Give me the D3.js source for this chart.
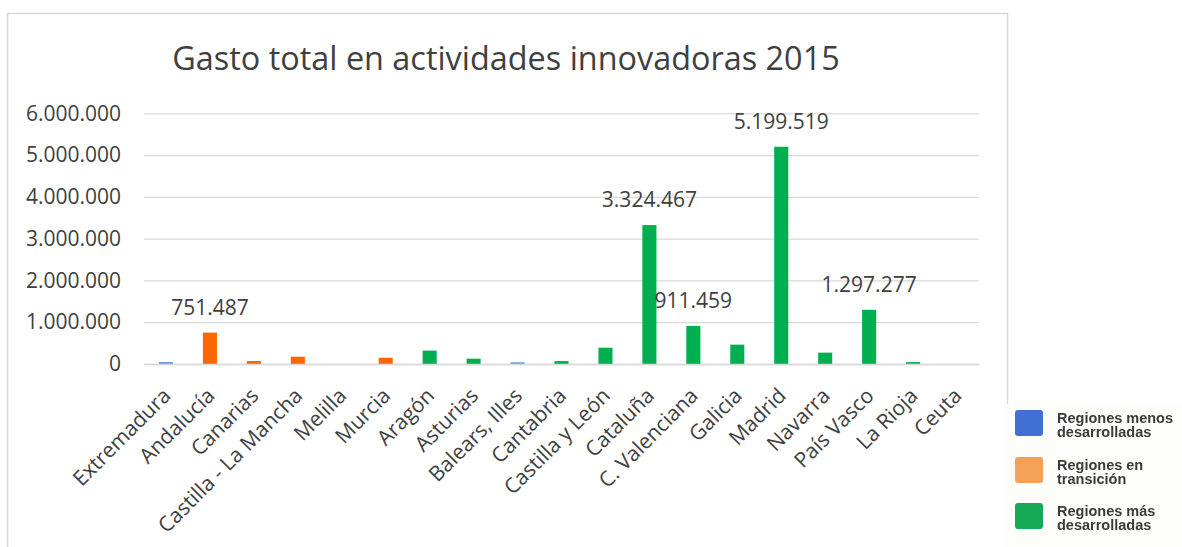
<!DOCTYPE html>
<html>
<head>
<meta charset="utf-8">
<script src="https://cdn.jsdelivr.net/npm/d3@7"></script>
<style>
  body { margin: 0; background: #fff; }
  svg { display: block; font-family: "Open Sans", sans-serif; }
</style>
</head>
<body>
<script>
// data
var categories = ["Extremadura", "Andalucía", "Canarias", "Castilla - La Mancha", "Melilla", "Murcia",
  "Aragón", "Asturias", "Balears, Illes", "Cantabria", "Castilla y León", "Cataluña", "C. Valenciana",
  "Galicia", "Madrid", "Navarra", "País Vasco", "La Rioja", "Ceuta"];
var values = [45000, 751487, 72000, 175000, 0, 150000, 320000, 127000, 40000, 70000, 390000,
  3324467, 911459, 463000, 5199519, 272000, 1297277, 45000, 0];
var groups = ["menos", "transicion", "transicion", "transicion", "transicion", "transicion", "mas", "mas",
  "menos", "mas", "mas", "mas", "mas", "mas", "mas", "mas", "mas", "mas", "mas"];
var labelled = ["Andalucía", "Cataluña", "C. Valenciana", "Madrid", "País Vasco"];
var yTicks = [0, 1000000, 2000000, 3000000, 4000000, 5000000, 6000000];

var legendNames = ["menos", "transicion", "mas"];
var legendLines = [["Regiones menos", "desarrolladas"], ["Regiones en", "transición"], ["Regiones más", "desarrolladas"]];

var barColor = {menos: "#5b9bd5", transicion: "#ff6600", mas: "#00b050"};
var legendColor = {menos: "#3f6fd2", transicion: "#f2a158", mas: "#13a956"};

var width = 1182, height = 547;
var plot = {left: 144, right: 979, top: 113.3, bottom: 364};

var locale = d3.formatLocale({decimal: ",", thousands: ".", grouping: [3], currency: ["", "€"]});
var fmt = locale.format(",d");

var svg = d3.select("body").append("svg")
    .attr("width", width)
    .attr("height", height);

// chart frame
svg.append("rect")
    .attr("x", 7.5).attr("y", 13.5)
    .attr("width", 1000).attr("height", 560)
    .attr("fill", "#fff")
    .attr("stroke", "#d9d9d9")
    .attr("stroke-width", 1.5);

svg.append("text")
    .attr("x", 506).attr("y", 70)
    .attr("text-anchor", "middle")
    .attr("font-size", 32.4)
    .attr("fill", "#404040")
    .text("Gasto total en actividades innovadoras 2015");

var x = d3.scaleBand()
    .domain(categories)
    .range([plot.left, plot.right])
    .paddingInner(0.68)
    .paddingOuter(0.34);

var y = d3.scaleLinear()
    .domain([0, 6000000])
    .range([plot.bottom, plot.top]);

// y axis + gridlines
var yAxis = svg.append("g")
    .attr("transform", "translate(" + plot.left + ",0)")
    .call(d3.axisLeft(y).tickValues(yTicks).tickFormat(fmt)
      .tickSize(-(plot.right - plot.left)).tickPadding(23));
yAxis.select(".domain").remove();
yAxis.selectAll("line").attr("stroke", "#d9d9d9").attr("stroke-width", 1.3);
yAxis.selectAll("text").attr("font-size", 21).attr("fill", "#404040")
    .attr("font-family", "Open Sans");

// bars
svg.selectAll(".bar")
    .data(categories)
  .enter().append("rect")
    .attr("class", "bar")
    .attr("x", function(d) { return x(d); })
    .attr("width", x.bandwidth())
    .attr("y", function(d, i) { return y(values[i]); })
    .attr("height", function(d, i) { return y(0) - y(values[i]); })
    .attr("fill", function(d, i) { return barColor[groups[i]]; });

// x axis
var xAxis = svg.append("g")
    .attr("transform", "translate(0," + plot.bottom + ")")
    .call(d3.axisBottom(x).tickSize(0));
xAxis.select(".domain").attr("stroke", "#d9d9d9").attr("stroke-width", 1.7);
xAxis.selectAll("text")
    .attr("font-size", 21).attr("fill", "#404040")
    .attr("font-family", "Open Sans")
    .attr("text-anchor", "end")
    .attr("x", 0).attr("y", 0).attr("dy", 0)
    .attr("transform", "translate(6,33) rotate(-45)");

// data labels
svg.selectAll(".lbl")
    .data(categories.filter(function(d) { return labelled.indexOf(d) >= 0; }))
  .enter().append("text")
    .attr("class", "lbl")
    .attr("x", function(d) { return x(d) + x.bandwidth() / 2; })
    .attr("y", function(d) { return y(values[categories.indexOf(d)]) - 18; })
    .attr("text-anchor", "middle")
    .attr("font-size", 21)
    .attr("fill", "#404040")
    .text(function(d) { return fmt(values[categories.indexOf(d)]); });

// legend (pasted image look)
var defs = svg.append("defs");
defs.append("filter").attr("id", "soft")
  .append("feGaussianBlur").attr("stdDeviation", 0.6);

var legend = svg.append("g");
legend.append("rect")
    .attr("x", 1004).attr("y", 404)
    .attr("width", 178).attr("height", 143)
    .attr("fill", "#fdfdfa");

var lg = legend.append("g").attr("filter", "url(#soft)");
var rowY = [410, 457, 503];
legendNames.forEach(function(k, i) {
  lg.append("rect")
      .attr("x", 1015).attr("y", rowY[i])
      .attr("width", 28).attr("height", 26).attr("rx", 3)
      .attr("fill", legendColor[k]);
  legendLines[i].forEach(function(t, j) {
    lg.append("text")
        .attr("x", 1057).attr("y", rowY[i] + 13 + j * 14)
        .attr("font-family", "Liberation Sans")
        .attr("font-weight", "bold")
        .attr("font-size", 14.5)
        .attr("fill", "#3a3a3a")
        .text(t);
  });
});
</script>
</body>
</html>
